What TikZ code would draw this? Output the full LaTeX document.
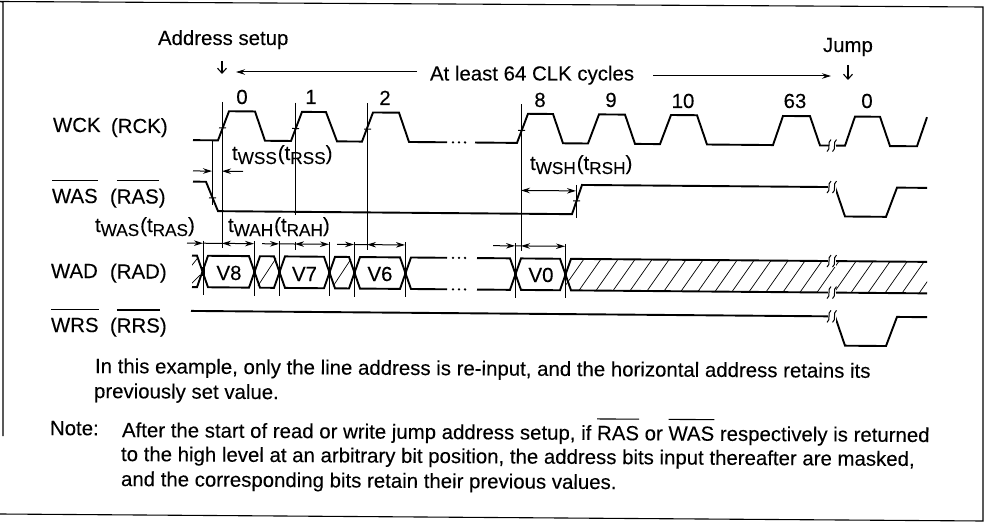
\documentclass[tikz,border=0pt]{standalone}
\usepackage{fontspec}
\setmainfont[FakeBold=0.12]{Liberation Sans}
\usetikzlibrary{arrows.meta}
\newcommand\ovl[2][22pt]{\sbox0{#2}\rlap{\rule[#1]{\wd0}{1.1pt}}\copy0 }
\newcommand\subs[1]{\raisebox{-4pt}{\fontsize{17.2}{17}\selectfont #1}}
\tikzset{
  txt/.style={inner sep=0pt,outer sep=0pt,anchor=base west,text=black,font=\fontsize{20.4}{24}\selectfont},
  para/.style={txt,rotate=-0.36},
  num/.style={txt,anchor=base},
  sig/.style={line width=1.9pt,line join=miter,black},
  thin/.style={line width=1pt,black},
  dim/.style={line width=1pt,black,{Stealth[length=9pt,width=5.5pt]}-{Stealth[length=9pt,width=5.5pt]}},
  dimr/.style={line width=1pt,black,-{Stealth[length=9pt,width=5.5pt]}},
  hatch/.style={line width=0.7pt,black},
  brk/.pic={
    \fill[white] (-3.5,-6) rectangle (3.5,6);
    \draw[line width=1pt] (-1,-6) .. controls (-5.5,-3) and (-0.5,3) .. (-5,6);
    \draw[line width=1pt] (4.5,-6) .. controls (0,-3) and (5,3) .. (0.5,6);
  }
}
\begin{document}
\begin{tikzpicture}[x=1pt,y=-1pt]
\useasboundingbox (0,0) rectangle (988,524);
% frame
\draw[line width=1.1pt] (3,436) -- (3,2) -- (0,1.5);
\draw[line width=1.1pt] (0,1.5) -- (983,7) -- (983,521) -- (0,514);
\begin{scope}[yslant=-0.0085]
\def\L{138.5}\def\H{109.3}
\def\WH{180}\def\WL{209.3}
\def\T{254}\def\B{285.5}
\def\RH{309.3}\def\RL{338.5}
% WCK
\draw[sig] (193,\L)--(218,\L)--(229,\H)--(255,\H)--(265,\L)--(291,\L)--(302,\H)--(326,\H)--(337,\L)--(362,\L)--(373,\H)--(399,\H)--(409,\L)--(447,\L);
\draw[sig] (475,\L)--(517,\L)--(528,\H)--(553,\H)--(563,\L)--(588,\L)--(599,\H)--(625,\H)--(635,\L)--(660,\L)--(671,\H)--(697,\H)--(707,\L)--(773,\L)--(783,\H)--(810,\H)--(820,\L)--(829,\L);
\draw[sig] (836,\L)--(845,\L)--(855,\H)--(880,\H)--(890,\L)--(917,\L)--(927,\H);
\foreach \x in {453,459,465}{\fill (\x,\L) circle (1.3pt); \fill (\x,\T) circle (1.3pt); \fill (\x,\B) circle (1.3pt);}
% WAS
\draw[sig] (193,\WH)--(206,\WH)--(218,\WL)--(572,\WL)--(582,\WH)--(828,\WH);
\draw[sig] (835,\WH)--(845,\WL)--(886,\WL)--(897,\WH)--(927,\WH);
% WRS
\draw[sig] (191,\RH)--(828,\RH);
\draw[sig] (835,\RH)--(845,\RL)--(886,\RL)--(897,\RH)--(927,\RH);
% hatching
\begin{scope}
\clip (565,\T) -- (927,\T) -- (927,\B) -- (565,\B) -- cycle;
\foreach \x in {573,590,...,950}{\draw[hatch] (\x-11,\B)--(\x+11,\T);}
\end{scope}
\begin{scope}
\clip (192,\T) rectangle (203,\B);
\draw[hatch] (190,\T+12)--(198,\T+2);
\draw[hatch] (190,\B-2)--(200,\B-12);
\end{scope}
\draw[hatch] (258,\B-2)--(276,\T+2);
\draw[hatch] (333,\B-2)--(351,\T+2);
% WAD
\draw[sig] (192,\T)--(197,\T)--(208,\B)--(249,\B)--(260,\T)--(274,\T)--(285,\B)--(324,\B)--(335,\T)--(349,\T)--(360,\B)--(400,\B)--(411,\T)--(447,\T);
\draw[sig] (192,\B)--(197,\B)--(208,\T)--(249,\T)--(260,\B)--(274,\B)--(285,\T)--(324,\T)--(335,\B)--(349,\B)--(360,\T)--(400,\T)--(411,\B)--(447,\B);
\draw[sig] (477,\T)--(510,\T)--(521,\B)--(560,\B)--(571,\T)--(828,\T);
\draw[sig] (477,\B)--(510,\B)--(521,\T)--(560,\T)--(571,\B)--(828,\B);
\draw[sig] (836,\T)--(927,\T);
\draw[sig] (836,\B)--(927,\B);
\foreach \x in {203,254,279,329,354,405,515,565}{\draw[line width=3pt] (\x,\T+11)--(\x,\B-11);}
% break marks
\foreach \y in {\L,\WH,\T,\B,\RH}{\pic at (832,\y) {brk};}
% long verticals
\draw[thin] (222,100)--(222,246);
\draw[thin] (295,100)--(295,212);
\draw[thin] (295,239)--(295,247);
\draw[thin] (367,100)--(367,247);
\draw[thin] (521,100)--(521,247);
\draw[thin] (212,139.5)--(212,203);
\draw[thin] (576,180)--(576,213);
% ticks on edges
\foreach \x in {222,295,367,521}{\draw[thin] (\x-3,126)--(\x+4,126);}
\draw[thin] (209,196)--(216,196);
\draw[thin] (573,196)--(580,196);
% dimension ticks
\foreach \x in {203,254,279,329,354,405,515,565}{\draw[thin] (\x,239)--(\x,293.5);}
% dimension arrows
\draw[dimr] (193,169.3)--(212,169.3);
\draw[dimr] (243,169.3)--(222,169.3);
\draw[dim] (521,186)--(576,186);
\def\D{241.5}
\draw[dimr] (187,\D)--(203,\D);
\draw[thin] (203,\D)--(222,\D);
\draw[dim] (222,\D)--(254,\D);
\draw[dimr] (262,\D)--(279,\D);
\draw[thin] (279,\D)--(295,\D);
\draw[dim] (295,\D)--(329,\D);
\draw[dimr] (337,\D)--(354,\D);
\draw[thin] (354,\D)--(367,\D);
\draw[dim] (367,\D)--(405,\D);
\draw[dimr] (493,\D)--(515,\D);
\draw[thin] (515,\D)--(521,\D);
\draw[dim] (521,\D)--(565,\D);
\end{scope}
% top arrows
\coordinate (la) at (417,72); \coordinate (lb) at (236,72);
\coordinate (ra) at (653,76); \coordinate (rb) at (831,76);
\draw[dimr] (la)--(lb);
\draw[dimr] (ra)--(rb);
\draw[line width=1.1pt,-{Straight Barb[length=5pt,width=9pt]}] (222,61)--(222,74);
\draw[line width=1.1pt,-{Straight Barb[length=5pt,width=9pt]}] (848,65)--(848,80);
% labels
\node[txt] (addr) at (158,45) {Address setup};
\node[txt] (least) at (430,80.5) {At least 64 CLK cycles};
\node[txt] (jump) at (823,52) {Jump};
\node[num] (n0) at (242,104) {0};
\node[num] (n1) at (311,104) {1};
\node[num] (n2) at (385,105) {2};
\node[num] (n8) at (540,107) {8};
\node[num] (n9) at (611,107) {9};
\node[num] (n10) at (683,108) {10};
\node[num] (n63) at (795,108) {63};
\node[num] (n0b) at (867,108) {0};
\node[num] (v8) at (229,280) {V8};
\node[num] (v7) at (304.5,281) {V7};
\node[num] (v6) at (380,281) {V6};
\node[num] (v0) at (541,282) {V0};
\node[txt] (wck) at (53,132) {WCK};
\node[txt] (rck) at (111,133) {(RCK)};
\node[txt] (was) at (52,203) {\ovl{WAS}};
\node[txt] (ras) at (110,203.5) {(\ovl{RAS})};
\node[txt] (wad) at (51,278) {WAD};
\node[txt] (rad) at (110,278.5) {(RAD)};
\node[txt] (wrs) at (51,332) {\ovl{WRS}};
\node[txt] (rrs) at (110,332.5) {(\ovl{RRS})};
\node[txt] (twss) at (232,160) {t\subs{WSS}\kern1pt(t\subs{RSS})};
\node[txt] (twsh) at (530,170) {t\subs{WSH}\kern1pt(t\subs{RSH})};
\node[txt] (twas) at (95,232) {t\subs{WAS}\kern1pt(t\subs{RAS})};
\node[txt] (twah) at (228,232) {t\subs{WAH}\kern1pt(t\subs{RAH})};
\node[para] (p1) at (95,373) {In this example, only the line address is re-input, and the horizontal address retains its};
\node[para] (p2) at (94,398) {previously set value.};
\node[para] (note) at (50,435) {Note:};
\node[para] (p3) at (122,437) {After the start of read or write jump address setup, if \ovl[20.5pt]{RAS} or \ovl[20.5pt]{WAS} respectively is returned};
\node[para] (p4) at (121,461) {to the high level at an arbitrary bit position, the address bits input thereafter are masked,};
\node[para] (p5) at (121,486) {and the corresponding bits retain their previous values.};
\end{tikzpicture}
\end{document}
